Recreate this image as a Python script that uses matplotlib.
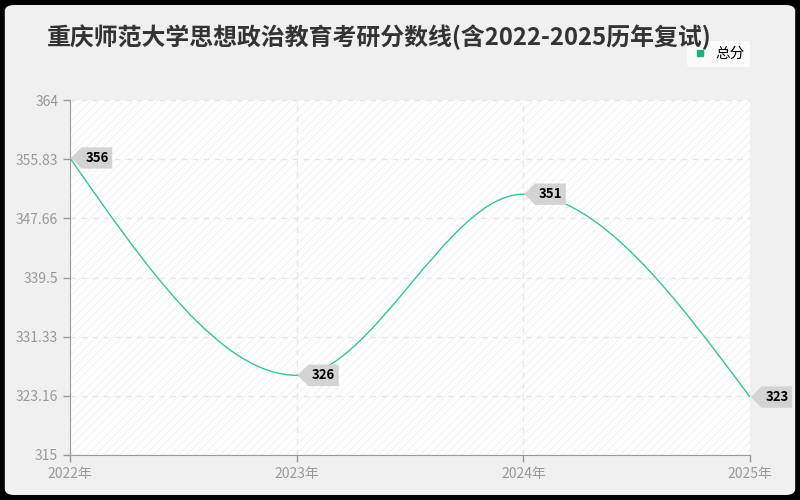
import numpy as np
import matplotlib
matplotlib.use('Agg')
import matplotlib.pyplot as plt
from matplotlib.path import Path
from matplotlib.patches import PathPatch, FancyBboxPatch

plt.rcParams['font.family'] = ['Noto Sans CJK SC', 'DejaVu Sans']
plt.rcParams['hatch.linewidth'] = 0.8

title = '重庆师范大学思想政治教育考研分数线(含2022-2025历年复试)'
years = ['2022年', '2023年', '2024年', '2025年']
scores = [356, 326, 351, 323]
yticks = [315, 323.16, 331.33, 339.5, 347.66, 355.83, 364]
series_name = '总分'
line_color = '#34c496'


def tag_box(x0, y0, width, height, mutation_size):
    # rectangle with a pointed left side, padded around the text
    pad = 0.28 * mutation_size
    x0, y0 = x0 - pad, y0 - pad
    width, height = width + 2 * pad, height + 2 * pad
    tip = height * 0.5
    verts = [(x0 - tip, y0 + height / 2), (x0, y0 + height), (x0 + width, y0 + height),
             (x0 + width, y0), (x0, y0), (x0 - tip, y0 + height / 2)]
    codes = [Path.MOVETO] + [Path.LINETO] * 4 + [Path.CLOSEPOLY]
    return Path(verts, codes)


def monotone_path(xs, ys):
    # monotone cubic (Fritsch-Carlson) as bezier segments
    xs = np.asarray(xs, float)
    ys = np.asarray(ys, float)
    h = np.diff(xs)
    d = np.diff(ys) / h
    m = np.zeros(len(xs))
    for i in range(1, len(xs) - 1):
        if d[i - 1] * d[i] > 0:
            m[i] = 2 / (1 / d[i - 1] + 1 / d[i])
    m[0] = (3 * d[0] - m[1]) / 2
    m[-1] = (3 * d[-1] - m[-2]) / 2
    verts = [(xs[0], ys[0])]
    codes = [Path.MOVETO]
    for i in range(len(h)):
        verts += [(xs[i] + h[i] / 3, ys[i] + m[i] * h[i] / 3),
                  (xs[i + 1] - h[i] / 3, ys[i + 1] - m[i + 1] * h[i] / 3),
                  (xs[i + 1], ys[i + 1])]
        codes += [Path.CURVE4] * 3
    return Path(verts, codes)


fig = plt.figure(figsize=(8, 5), dpi=100)
fig.patch.set_facecolor('black')
bg = FancyBboxPatch((0.006, 0.01), 0.988, 0.98, boxstyle='round,pad=0,rounding_size=0.012',
                    transform=fig.transFigure, facecolor='#f0f0f0', edgecolor='none', zorder=-10)
fig.patches.append(bg)

ax = fig.add_axes([0.0875, 0.09, 0.85, 0.71])
ax.set_facecolor('white')
ax.patch.set_hatch('////')
ax.patch.set_edgecolor('#f3f3f3')
ax.patch.set_linewidth(0)

x = np.arange(len(years))
ax.set_xlim(0, len(years) - 1)
ax.set_ylim(yticks[0], yticks[-1])

ax.add_patch(PathPatch(monotone_path(x, scores), facecolor='none', edgecolor=line_color, lw=1, zorder=3))

for xi, s in zip(x, scores):
    ax.annotate(str(s), (xi, s), xytext=(11, 0), textcoords='offset points',
                ha='left', va='center', fontsize=9.5, fontweight='bold', color='black',
                bbox=dict(boxstyle=tag_box, facecolor='#d3d3d3', edgecolor='none'),
                zorder=5, annotation_clip=False)

ax.set_xticks(x)
ax.set_xticklabels(years)
ax.set_yticks(yticks)
ax.set_yticklabels(['315', '323.16', '331.33', '339.5', '347.66', '355.83', '364'])
ax.grid(True, color='#e6e6e6', linestyle=(0, (4, 4)), linewidth=1)
ax.tick_params(colors='#999999', labelcolor='#999999', labelsize=10, length=5, width=1)
for side in ['top', 'right']:
    ax.spines[side].set_visible(False)
for side in ['left', 'bottom']:
    ax.spines[side].set_color('#999999')

fig.text(0.059, 0.925, title, fontsize=17.2, fontweight='bold', color='#333333', ha='left', va='center')

leg = ax.legend([plt.Line2D([], [], marker='s', color='#1fae7e', linestyle='none', markersize=5)],
                [series_name], loc='lower right', bbox_to_anchor=(1.0, 1.093), frameon=True,
                fontsize=10.5, handlelength=0.9, handletextpad=0.6, borderpad=0.4,
                borderaxespad=0, fancybox=True)
leg.get_frame().set_facecolor('white')
leg.get_frame().set_edgecolor('none')
for t in leg.get_texts():
    t.set_color('black')

fig.savefig('out.png', dpi=100, facecolor=fig.get_facecolor())
